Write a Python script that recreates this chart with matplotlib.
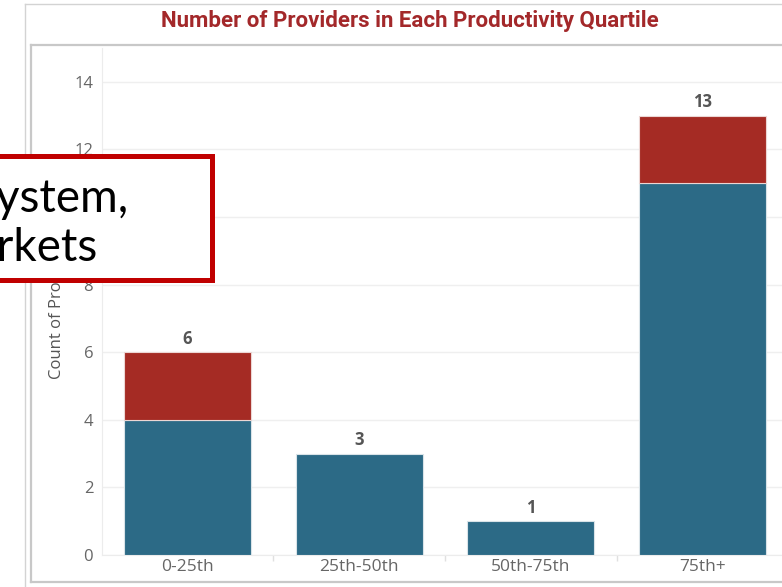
import matplotlib
matplotlib.use("Agg")
import matplotlib.pyplot as plt
from matplotlib.patches import Rectangle
from matplotlib.lines import Line2D
import numpy as np

# Data
quartiles = ["0-25th", "25th-50th", "50th-75th", "75th+"]
blue_counts = [4, 3, 1, 11]
red_counts = [2, 0, 0, 2]
totals = [b + r for b, r in zip(blue_counts, red_counts)]
y_ticks = [0, 2, 4, 6, 8, 10, 12, 14]

W, H = 782, 587
DPI = 100
fig = plt.figure(figsize=(W / DPI, H / DPI), dpi=DPI)
fig.patch.set_facecolor("white")


def fx(px):
    return px / W


def fy(py):
    return 1 - py / H


BLUE = "#2C6A86"
RED = "#A52B24"
TITLE_RED = "#A3282A"
GRAY_TXT = "#666666"
FONT = ["Open Sans", "DejaVu Sans"]

# Dashboard frame lines
fig.add_artist(Line2D([fx(25), fx(25)], [fy(4), fy(H)], transform=fig.transFigure,
                      color="#d3d3d3", lw=1.0))
fig.add_artist(Line2D([fx(25), fx(W)], [fy(4), fy(4)], transform=fig.transFigure,
                      color="#d3d3d3", lw=1.0))
# Inner sheet border
fig.add_artist(Line2D([fx(31), fx(31)], [fy(45), fy(582)], transform=fig.transFigure,
                      color="#c8c8c8", lw=1.6))
fig.add_artist(Line2D([fx(31), fx(W)], [fy(45), fy(45)], transform=fig.transFigure,
                      color="#c8c8c8", lw=1.6))
fig.add_artist(Line2D([fx(31), fx(W)], [fy(582), fy(582)], transform=fig.transFigure,
                      color="#c8c8c8", lw=1.6))

# Title
fig.text(fx(410), fy(21), "Number of Providers in Each Productivity Quartile",
         ha="center", va="center", fontsize=16, fontweight="bold",
         color=TITLE_RED, family=["Roboto", "DejaVu Sans"])

# Plot axes: x in [-0.5, 3.5] spans px 101.5..788.5, y in [0, 15] spans px 555..48
ax_left, ax_right = 101.5, 788.5
ax_bottom, ax_top = 555, 48
ax = fig.add_axes([fx(ax_left), fy(ax_bottom), (ax_right - ax_left) / W,
                   (ax_bottom - ax_top) / H])
ax.set_xlim(-0.5, 3.5)
ax.set_ylim(0, 15)

x = np.arange(len(quartiles))
bw = 0.74
ax.bar(x, blue_counts, width=bw, color=BLUE, edgecolor="#d9e3e8", linewidth=0.8, zorder=3)
ax.bar(x, red_counts, width=bw, bottom=blue_counts, color=RED, edgecolor="#ecd6d4",
       linewidth=[0.8 if r > 0 else 0 for r in red_counts], zorder=3)

for xi, t in zip(x, totals):
    ax.annotate(str(t), (xi, t), xytext=(0, 3), textcoords="offset points",
                ha="center", va="bottom", fontsize=12, fontweight="bold",
                color="#555555", family=FONT)

ax.set_yticks(y_ticks)
ax.set_yticklabels([str(v) for v in y_ticks], family=FONT, fontsize=12, color=GRAY_TXT)
ax.set_xticks(x)
ax.set_xticklabels(quartiles, family=FONT, fontsize=12.5, color=GRAY_TXT)
ax.set_xticks([0.5, 1.5, 2.5], minor=True)
ax.tick_params(axis="x", which="major", length=0, pad=3)
ax.tick_params(axis="x", which="minor", length=4, color="#e0e0e0", width=1)
ax.tick_params(axis="y", length=0, pad=6)

ax.grid(axis="y", color="#efefef", lw=1.0, zorder=0)
for s in ["top", "right"]:
    ax.spines[s].set_visible(False)
ax.spines["left"].set_color("#ececec")
ax.spines["bottom"].set_color("#ececec")

ax.set_ylabel("Count of Providers", family=FONT, fontsize=12, color="#555555")
ax.yaxis.set_label_coords((65 - ax_left) / (ax_right - ax_left), 0.49)

# Callout box overlapping the left side
fig.add_artist(Rectangle((fx(-20), fy(279.5)), fx(211.5 + 20), (279.5 - 155.5) / H,
                         transform=fig.transFigure, facecolor="white",
                         edgecolor="#C00000", lw=3.6, zorder=10))
CALLOUT_FONT = ["Lato", "DejaVu Sans"]
fig.text(fx(129), fy(212), "System,", ha="right", va="baseline", fontsize=33,
         color="black", family=CALLOUT_FONT, zorder=11)
fig.text(fx(98), fy(261), "Markets", ha="right", va="baseline", fontsize=33,
         color="black", family=CALLOUT_FONT, zorder=11)

fig.savefig("out.png", dpi=DPI, facecolor="white")
